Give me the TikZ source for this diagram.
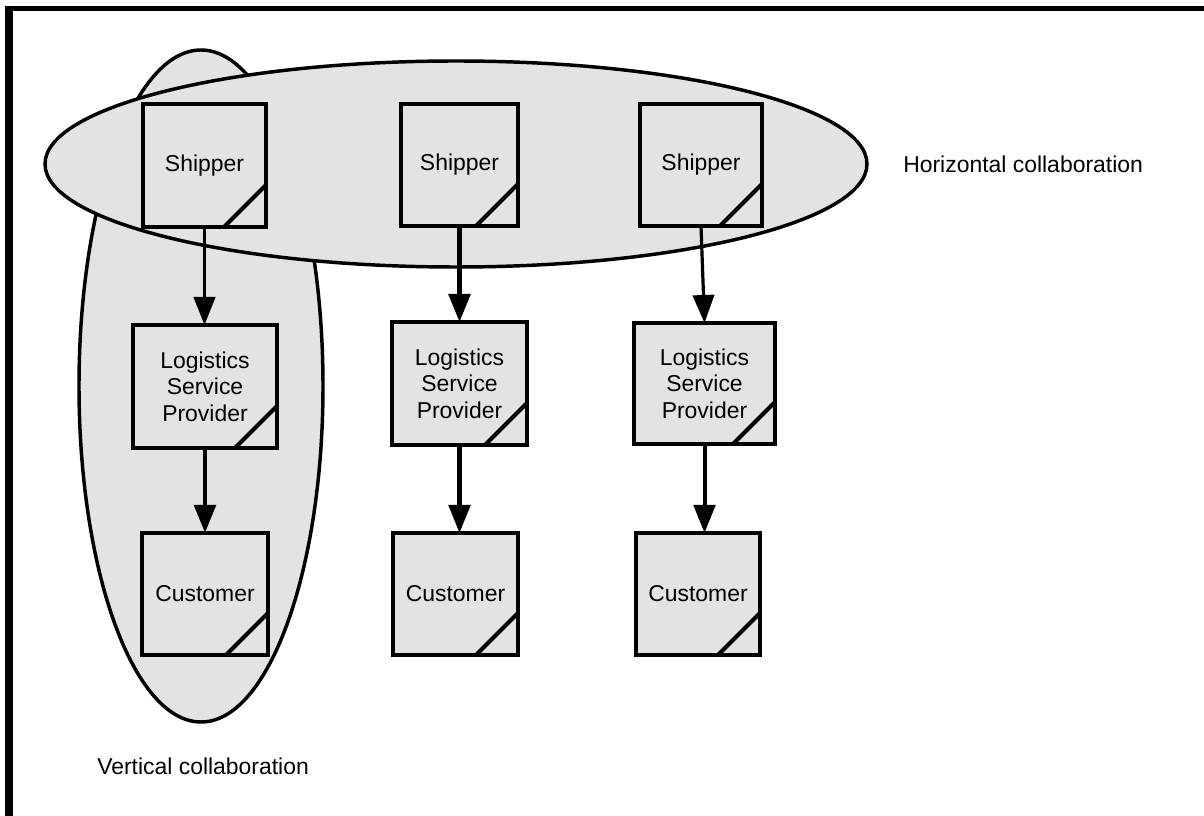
\documentclass[tikz,border=0pt]{standalone}
\usepackage{fontspec}
\setmainfont{Liberation Sans}
\usetikzlibrary{arrows.meta}
\definecolor{fillgray}{RGB}{227,227,227}
\begin{document}
\begin{tikzpicture}[x=0.75pt,y=-0.75pt,
  txt/.style={font=\fontsize{17.2}{19.9}\selectfont, inner sep=0pt},
  unitbox/.style={draw, line width=3pt, fill=fillgray, inner sep=0pt, outer sep=0pt,
    align=center, font=\fontsize{17.2}{19.9}\selectfont},
  group/.style={draw, line width=2.6pt, fill=fillgray},
  flow/.style={line width=2.6pt, -{Triangle[width=16pt,length=21pt]}},
  corner/.style={line width=3pt}
]
\useasboundingbox (0,0) rectangle (1204,816);
% frame (top and left only)
\fill (5,6) rectangle (1204,11);
\fill (5,6) rectangle (12.5,816);
% collaboration groups
\draw[group] (201,386) ellipse [x radius=122, y radius=336];
\draw[group] (456,164) ellipse [x radius=411, y radius=103];
% shippers
\node[unitbox, minimum width=92.25pt, minimum height=92.25pt] (s1) at (204.5,165.5) {Shipper};
\node[unitbox, minimum width=87.75pt, minimum height=91.5pt] (s2) at (459.5,165) {Shipper};
\node[unitbox, minimum width=91.5pt, minimum height=91.5pt] (s3) at (701,165) {Shipper};
% logistics service providers
\node[unitbox, minimum width=108pt, minimum height=92.25pt] (l1) at (205,386.5) {Logistics\\Service\\Provider};
\node[unitbox, minimum width=101.25pt, minimum height=92.25pt] (l2) at (459.5,383.5) {Logistics\\Service\\Provider};
\node[unitbox, minimum width=105.75pt, minimum height=90.75pt] (l3) at (704.5,383.5) {Logistics\\Service\\Provider};
% customers
\node[unitbox, minimum width=94.5pt, minimum height=91.5pt] (c1) at (205,594) {Customer};
\node[unitbox, minimum width=93.75pt, minimum height=91.5pt] (c2) at (455.5,594) {Customer};
\node[unitbox, minimum width=93pt, minimum height=91.5pt] (c3) at (698,594) {Customer};
% corner marks
\foreach \n in {s1,s2,s3,l1,l2,l3,c1,c2,c3}
  \draw[corner] ([yshift=31.5pt]\n.south east) -- ([xshift=-31.5pt]\n.south east);
% flows
\draw[flow] (s1.south) -- (s1.south |- l1.north);
\draw[flow, line width=3.6pt] (s2.south) -- (s2.south |- l2.north);
\draw[flow, line width=2.4pt] (s3.south) -- (l3.north);
\draw[flow, line width=3.2pt] (l1.south) -- (l1.south |- c1.north);
\draw[flow, line width=3.2pt] (l2.south) -- (l2.south |- c2.north);
\draw[flow, line width=3pt] (l3.south) -- (l3.south |- c3.north);
% labels
\node[txt, anchor=west] (hl) at (903,164) {Horizontal collaboration};
\node[txt, anchor=west] (vl) at (97,766) {Vertical collaboration};
\end{tikzpicture}
\end{document}
